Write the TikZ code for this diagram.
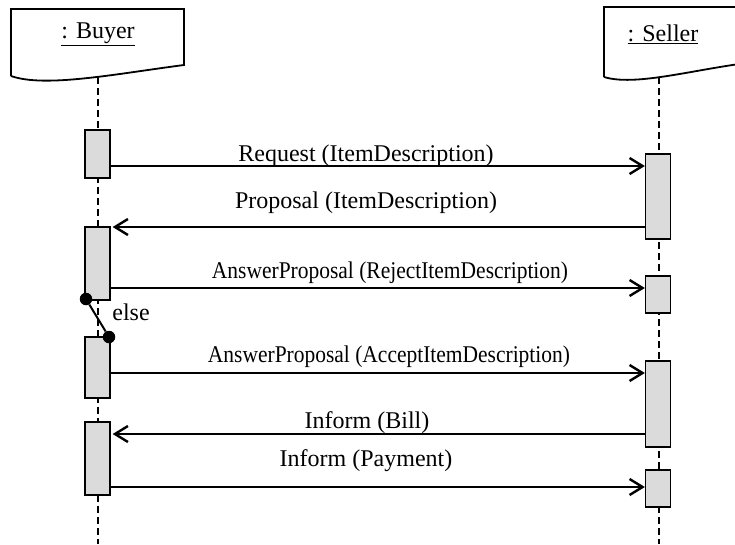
\documentclass[tikz,border=0pt]{standalone}
\usepackage{fontspec}
\usepackage{graphicx}
\setmainfont{Liberation Serif}
\usetikzlibrary{arrows.meta}
\tikzset{
    every node/.style={inner sep=0pt, font=\fontsize{24}{28}\selectfont}
}
\tikzset{
    act/.style={draw, fill=black!14, line width=1.3pt, minimum width=25pt},
    msg/.style={line width=2.4pt, -{Straight Barb[length=13pt,width=16pt]}},
    lifeline/.style={line width=2.2pt, dash pattern=on 7pt off 4pt},
    head/.style={line width=1.8pt},
    dot/.style={circle, fill, minimum size=12.5pt}
}

\begin{document}
\begin{tikzpicture}[x=1pt, y=-1pt]
  \useasboundingbox (0,0) rectangle (735,544);
  \clip (0,0) rectangle (735,544);

  \draw[head] (11,76) -- (11,9) -- (184,9) -- (184,65)
    .. controls (115,74) and (45,88) .. (11,76);
  \draw[head] (604,77) -- (604,7) -- (777,7) -- (777,60)
    .. controls (710,64) and (640,88) .. (604,77);
  \node (buyer) at (98,34) {\underline{: Buyer}};
  \node (seller) at (663,34) {\underline{: Seller}};

  \coordinate (buyertop) at (98,77);
  \coordinate (buyerend) at (98,544);
  \coordinate (sellertop) at (659,77);
  \coordinate (sellerend) at (659,544);
  \draw[lifeline] (buyertop) -- (buyerend);
  \draw[lifeline] (sellertop) -- (sellerend);

  \node (b1) [act, minimum height=48pt] at (97.5,154) {};
  \node (b2) [act, minimum height=73pt] at (97.5,263.5) {};
  \node (b3) [act, minimum height=61pt] at (97.5,367.5) {};
  \node (b4) [act, minimum height=73pt] at (97.5,458.5) {};
  \node (s1) [act, minimum height=85pt] at (658,196.5) {};
  \node (s2) [act, minimum height=37pt] at (658,294.5) {};
  \node (s3) [act, minimum height=86pt] at (658,404) {};
  \node (s4) [act, minimum height=37pt] at (658,488.5) {};

  \coordinate (m1) at (0,166);
  \coordinate (m2) at (0,227);
  \coordinate (m3) at (0,288);
  \coordinate (m4) at (0,373);
  \coordinate (m5) at (0,434);
  \coordinate (m6) at (0,487);
  \draw[msg] (b1.east |- m1) -- (s1.west |- m1);
  \draw[msg, shorten >=2pt] (s1.west |- m2) -- (b2.east |- m2);
  \draw[msg] (b2.east |- m3) -- (s2.west |- m3);
  \draw[msg] (b3.east |- m4) -- (s3.west |- m4);
  \draw[msg, shorten >=2pt] (s3.west |- m5) -- (b4.east |- m5);
  \draw[msg] (b4.east |- m6) -- (s4.west |- m6);

  \node (l1) [anchor=base] at (366,161) {Request (ItemDescription)};
  \node (l2) [anchor=base] at (366,208) {Proposal (ItemDescription)};
  \node (l3) [anchor=base] at (390,278)
    {\scalebox{0.895}[1]{AnswerProposal (RejectItemDescription)}};
  \node (l4) [anchor=base] at (389,362)
    {\scalebox{0.895}[1]{AnswerProposal (AcceptItemDescription)}};
  \node (l5) [anchor=base] at (367,428) {Inform (Bill)};
  \node (l6) [anchor=base] at (366,466) {Inform (Payment)};

  \node (e1) [dot] at (86,299) {};
  \node (e2) [dot] at (109,337) {};
  \draw[line width=2pt] (e1) -- (e2);
  \node (else) at (131,312) {else};
\end{tikzpicture}
\end{document}
